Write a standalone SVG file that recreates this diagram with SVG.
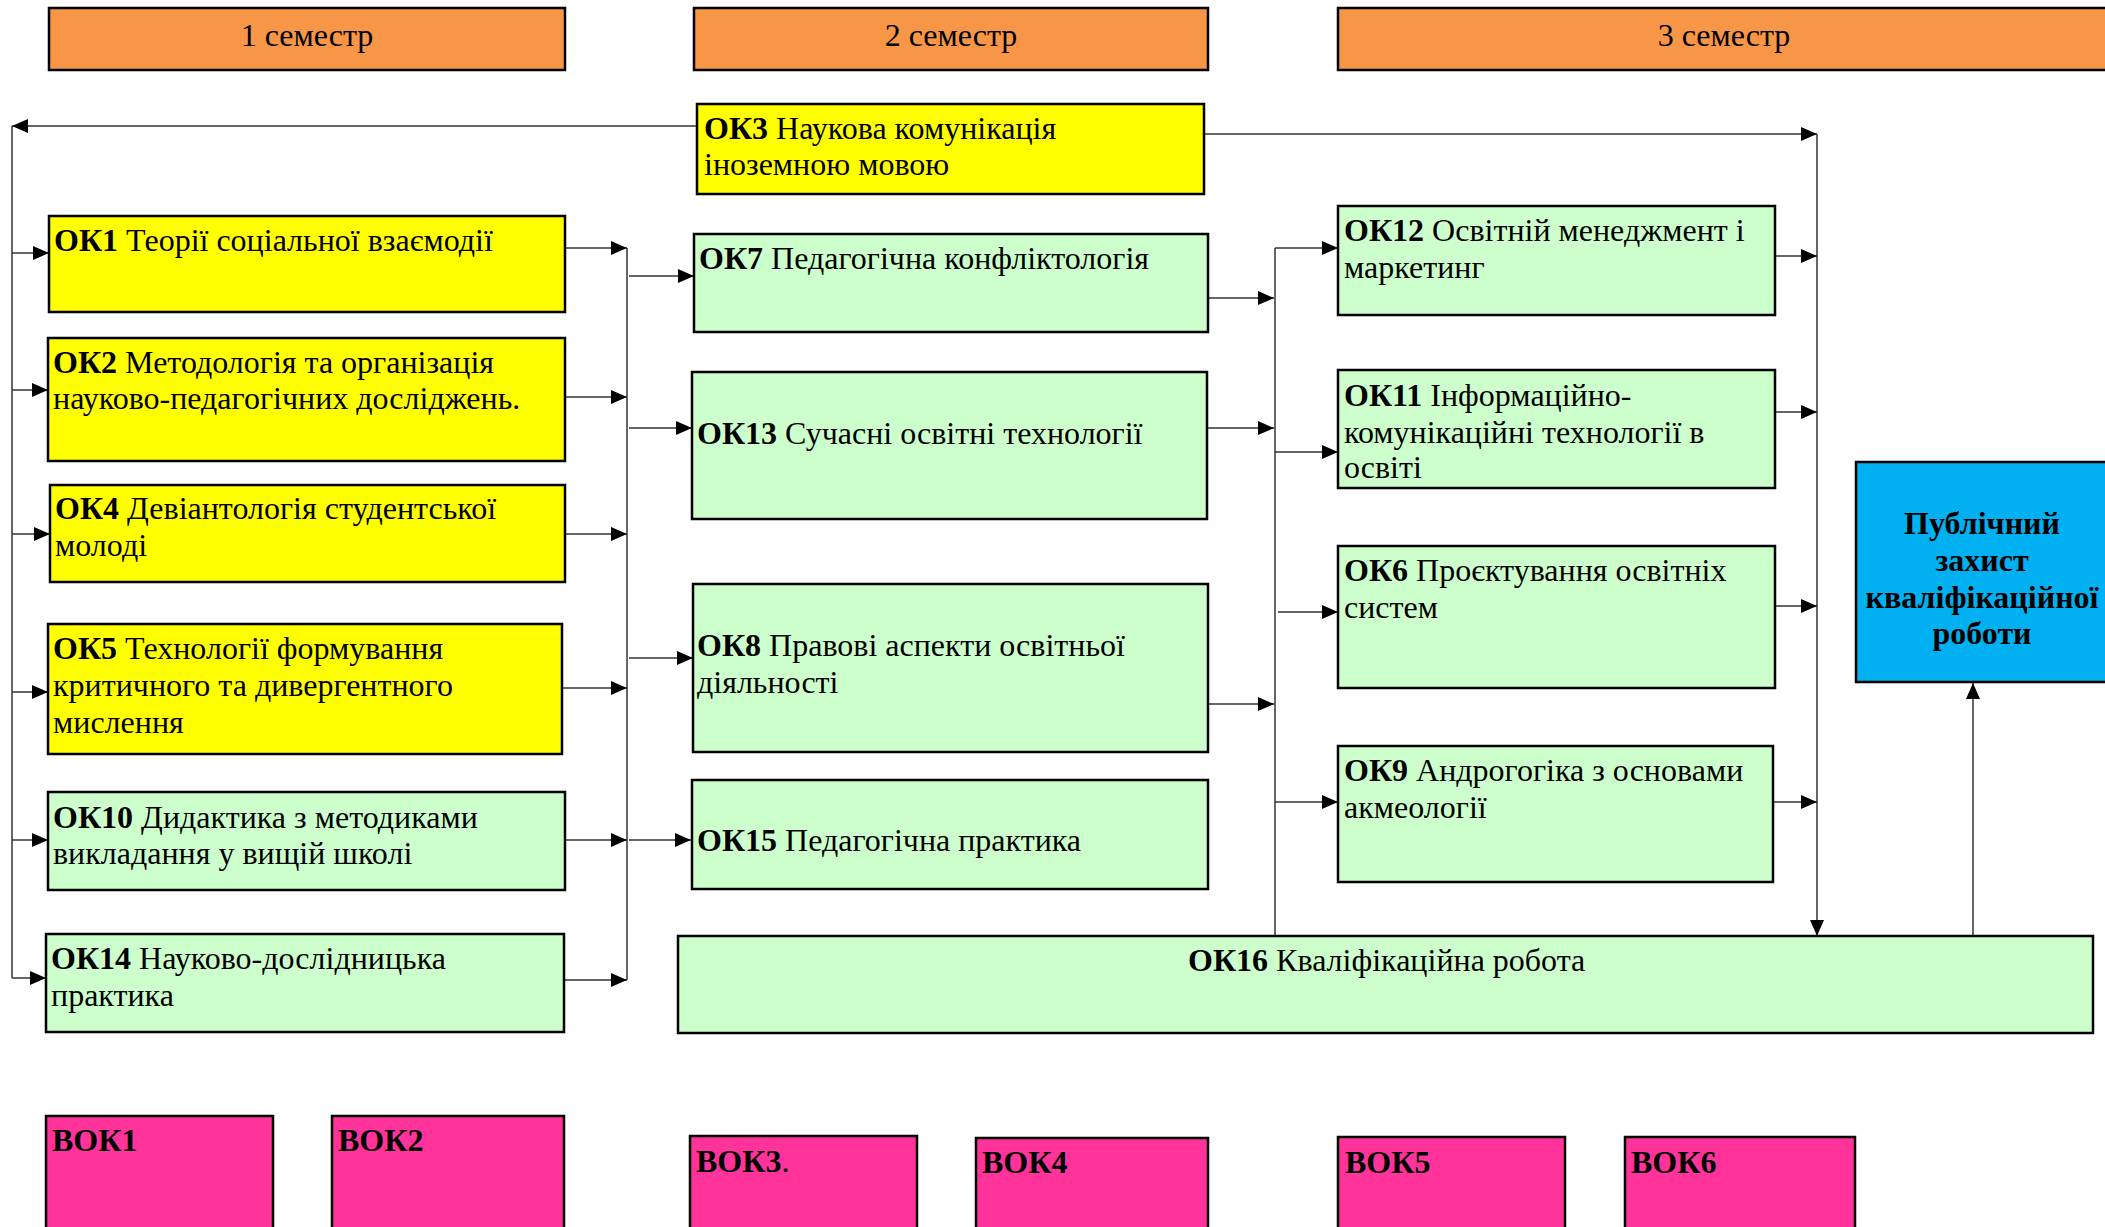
<svg xmlns="http://www.w3.org/2000/svg" width="2105" height="1227" viewBox="0 0 2105 1227">
<style>
.sem{fill:#F79646;stroke:#000;stroke-width:2.5}
.y{fill:#FFFF00;stroke:#000;stroke-width:2.5}
.g{fill:#CCFFCC;stroke:#000;stroke-width:2.5}
.p{fill:#FF3399;stroke:#000;stroke-width:2.5}
.b{fill:#00B0F0;stroke:#000;stroke-width:2.5}
text{font-family:"Liberation Serif","Times New Roman",serif;font-size:32px;fill:#000}
.c{text-anchor:middle}
.bd{font-weight:bold}
.ln{fill:none;stroke:#333;stroke-width:1.5}
</style>
<defs>
<marker id="ah" markerUnits="userSpaceOnUse" markerWidth="16" markerHeight="14" refX="16" refY="7" orient="auto">
<path d="M0,0 L16,7 L0,14 z" fill="#000"/>
</marker>
</defs>
<rect width="2105" height="1227" fill="#fff"/>

<g id="sem1"><rect class="sem" x="49" y="8" width="516" height="62"/><text class="c" x="307" y="46">1 семестр</text></g>
<g id="sem2"><rect class="sem" x="694" y="8" width="514" height="62"/><text class="c" x="951" y="46">2 семестр</text></g>
<g id="sem3"><rect class="sem" x="1338" y="8" width="780" height="62"/><text class="c" x="1724" y="46">3 семестр</text></g>

<g id="connectors">
<path class="ln" d="M697,126 H12" marker-end="url(#ah)"/>
<path class="ln" d="M12,126 V978"/>
<path class="ln" d="M12,253 H49" marker-end="url(#ah)"/>
<path class="ln" d="M12,390 H48" marker-end="url(#ah)"/>
<path class="ln" d="M12,534 H50" marker-end="url(#ah)"/>
<path class="ln" d="M12,692 H48" marker-end="url(#ah)"/>
<path class="ln" d="M12,840 H48" marker-end="url(#ah)"/>
<path class="ln" d="M12,978 H46" marker-end="url(#ah)"/>
<path class="ln" d="M627,248 V980"/>
<path class="ln" d="M565,248 H627" marker-end="url(#ah)"/>
<path class="ln" d="M565,397 H627" marker-end="url(#ah)"/>
<path class="ln" d="M565,534 H627" marker-end="url(#ah)"/>
<path class="ln" d="M562,688 H627" marker-end="url(#ah)"/>
<path class="ln" d="M565,840 H627" marker-end="url(#ah)"/>
<path class="ln" d="M564,980 H627" marker-end="url(#ah)"/>
<path class="ln" d="M629,276 H694" marker-end="url(#ah)"/>
<path class="ln" d="M629,428 H692" marker-end="url(#ah)"/>
<path class="ln" d="M629,658 H693" marker-end="url(#ah)"/>
<path class="ln" d="M629,840 H691" marker-end="url(#ah)"/>
<path class="ln" d="M1275,248 V936"/>
<path class="ln" d="M1208,298 H1274" marker-end="url(#ah)"/>
<path class="ln" d="M1207,428 H1274" marker-end="url(#ah)"/>
<path class="ln" d="M1208,704 H1274" marker-end="url(#ah)"/>
<path class="ln" d="M1275,248 H1338" marker-end="url(#ah)"/>
<path class="ln" d="M1275,452 H1338" marker-end="url(#ah)"/>
<path class="ln" d="M1278,612 H1338" marker-end="url(#ah)"/>
<path class="ln" d="M1275,802 H1338" marker-end="url(#ah)"/>
<path class="ln" d="M1204,134 H1817" marker-end="url(#ah)"/>
<path class="ln" d="M1817,134 V936" marker-end="url(#ah)"/>
<path class="ln" d="M1775,256 H1817" marker-end="url(#ah)"/>
<path class="ln" d="M1775,412 H1817" marker-end="url(#ah)"/>
<path class="ln" d="M1775,606 H1817" marker-end="url(#ah)"/>
<path class="ln" d="M1773,802 H1817" marker-end="url(#ah)"/>
<path class="ln" d="M1973,936 V683" marker-end="url(#ah)"/>
</g>

<g id="ok3"><rect class="y" x="697" y="104" width="507" height="90"/><text x="704" y="139"><tspan class="bd">ОК3</tspan> Наукова комунікація</text><text x="704" y="175">іноземною мовою</text></g>
<g id="ok1"><rect class="y" x="49" y="216" width="516" height="96"/><text x="54" y="251"><tspan class="bd">ОК1</tspan> Теорії соціальної взаємодії</text></g>
<g id="ok2"><rect class="y" x="48" y="338" width="517" height="123"/><text x="53" y="373"><tspan class="bd">ОК2</tspan> Методологія та організація</text><text x="53" y="409">науково-педагогічних досліджень.</text></g>
<g id="ok4"><rect class="y" x="50" y="485" width="515" height="97"/><text x="55" y="519"><tspan class="bd">ОК4</tspan> Девіантологія студентської</text><text x="55" y="556">молоді</text></g>
<g id="ok5"><rect class="y" x="48" y="624" width="514" height="130"/><text x="53" y="659"><tspan class="bd">ОК5</tspan> Технології формування</text><text x="53" y="696">критичного та дивергентного</text><text x="53" y="733">мислення</text></g>
<g id="ok10"><rect class="g" x="48" y="792" width="517" height="98"/><text x="53" y="828"><tspan class="bd">ОК10</tspan> Дидактика з методиками</text><text x="53" y="864">викладання у вищій школі</text></g>
<g id="ok14"><rect class="g" x="46" y="934" width="518" height="98"/><text x="51" y="969"><tspan class="bd">ОК14</tspan> Науково-дослідницька</text><text x="51" y="1006">практика</text></g>

<g id="ok7"><rect class="g" x="694" y="234" width="514" height="98"/><text x="699" y="269"><tspan class="bd">ОК7</tspan> Педагогічна конфліктологія</text></g>
<g id="ok13"><rect class="g" x="692" y="372" width="515" height="147"/><text x="697" y="444"><tspan class="bd">ОК13</tspan> Сучасні освітні технології</text></g>
<g id="ok8"><rect class="g" x="693" y="584" width="515" height="168"/><text x="697" y="656"><tspan class="bd">ОК8</tspan> Правові аспекти освітньої</text><text x="697" y="693">діяльності</text></g>
<g id="ok15"><rect class="g" x="692" y="780" width="516" height="109"/><text x="697" y="851"><tspan class="bd">ОК15</tspan> Педагогічна практика</text></g>

<g id="ok12"><rect class="g" x="1338" y="206" width="437" height="109"/><text x="1344" y="241"><tspan class="bd">ОК12</tspan> Освітній менеджмент і</text><text x="1344" y="278">маркетинг</text></g>
<g id="ok11"><rect class="g" x="1338" y="370" width="437" height="118"/><text x="1344" y="406"><tspan class="bd">ОК11</tspan> Інформаційно-</text><text x="1344" y="443">комунікаційні технології в</text><text x="1344" y="478">освіті</text></g>
<g id="ok6"><rect class="g" x="1338" y="546" width="437" height="142"/><text x="1344" y="581"><tspan class="bd">ОК6</tspan> Проєктування освітніх</text><text x="1344" y="618">систем</text></g>
<g id="ok9"><rect class="g" x="1338" y="746" width="435" height="136"/><text x="1344" y="781"><tspan class="bd">ОК9</tspan> Андрогогіка з основами</text><text x="1344" y="818">акмеології</text></g>

<g id="ok16"><rect class="g" x="678" y="936" width="1415" height="97"/><text x="1188" y="971"><tspan class="bd">ОК16</tspan> Кваліфікаційна робота</text></g>

<g id="public"><rect class="b" x="1856" y="462" width="260" height="220"/>
<text class="c bd" x="1982" y="534">Публічний</text><text class="c bd" x="1982" y="571">захист</text><text class="c bd" x="1982" y="608">кваліфікаційної</text><text class="c bd" x="1982" y="644">роботи</text></g>

<g id="vok1"><rect class="p" x="46" y="1116" width="227" height="125"/><text class="bd" x="52" y="1151">ВОК1</text></g>
<g id="vok2"><rect class="p" x="332" y="1116" width="232" height="125"/><text class="bd" x="338" y="1151">ВОК2</text></g>
<g id="vok3"><rect class="p" x="690" y="1136" width="227" height="105"/><text x="696" y="1172"><tspan class="bd">ВОК3</tspan>.</text></g>
<g id="vok4"><rect class="p" x="976" y="1138" width="232" height="105"/><text class="bd" x="982" y="1173">ВОК4</text></g>
<g id="vok5"><rect class="p" x="1338" y="1137" width="227" height="105"/><text class="bd" x="1345" y="1173">ВОК5</text></g>
<g id="vok6"><rect class="p" x="1625" y="1137" width="230" height="105"/><text class="bd" x="1631" y="1173">ВОК6</text></g>
</svg>
